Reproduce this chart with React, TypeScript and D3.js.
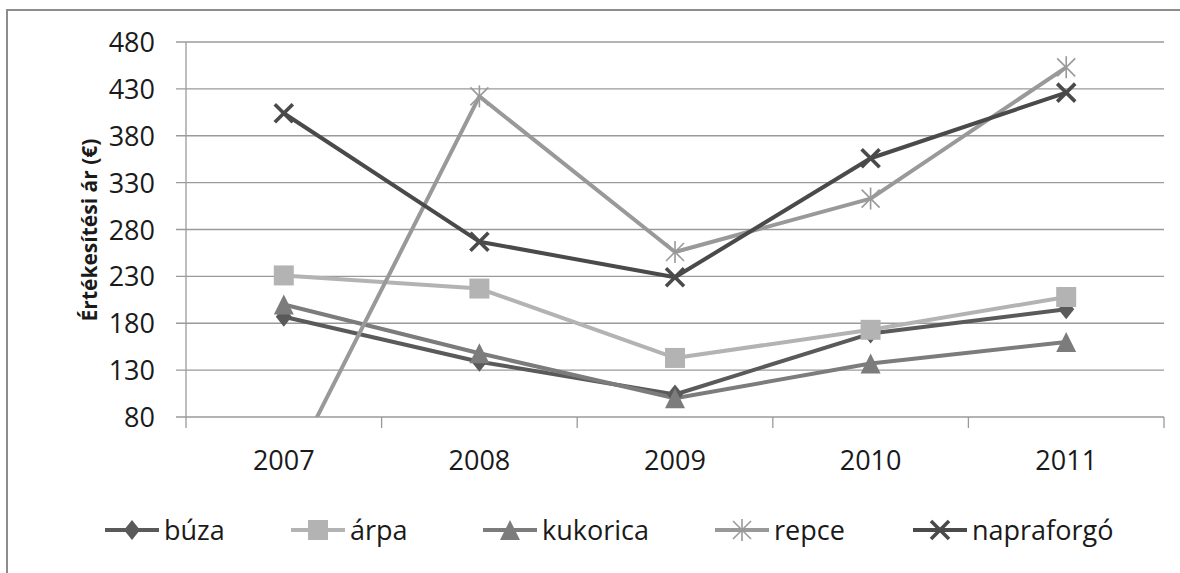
import React from "react";
import * as d3 from "d3";

// Years on the category axis
const years: string[] = ["2007", "2008", "2009", "2010", "2011"];

// Selling price per year for each crop (€)
const buza: number[] = [187, 139, 104, 169, 195];
const arpa: number[] = [231, 217, 143, 173, 208];
const kukorica: number[] = [200, 148, 100, 137, 160];
const repce: number[] = [10, 422, 256, 313, 453];
const napraforgo: number[] = [404, 267, 229, 356, 426];

const yTicks: number[] = [80, 130, 180, 230, 280, 330, 380, 430, 480];

type Marker = "diamond" | "square" | "triangle" | "star" | "x";

const seriesNames: string[] = ["búza", "árpa", "kukorica", "repce", "napraforgó"];
const seriesValues: number[][] = [buza, arpa, kukorica, repce, napraforgo];
const seriesColors: string[] = ["#5a5a5a", "#b3b3b3", "#7c7c7c", "#999999", "#4a4a4a"];
const seriesMarkers: Marker[] = ["diamond", "square", "triangle", "star", "x"];

const W = 1180;
const H = 573;
const plot = { left: 186, right: 1164, top: 42, bottom: 417 };
const FONT = "'Open Sans', 'Noto Sans', sans-serif";

const legendX: number[] = [105, 291, 483, 715, 913];

function MarkerShape({ kind, cx, cy, color }: { kind: Marker; cx: number; cy: number; color: string }) {
  const s = 10;
  switch (kind) {
    case "diamond":
      return (
        <path
          d={`M${cx},${cy - s} L${cx + s * 0.8},${cy} L${cx},${cy + s} L${cx - s * 0.8},${cy} Z`}
          fill={color}
        />
      );
    case "square":
      return <rect x={cx - s} y={cy - s} width={2 * s} height={2 * s} fill={color} />;
    case "triangle":
      return (
        <path d={`M${cx},${cy - s} L${cx + s},${cy + s} L${cx - s},${cy + s} Z`} fill={color} />
      );
    case "star": {
      const r = 9;
      return (
        <g stroke={color} strokeWidth={1.6} fill="none">
          <line x1={cx - r} y1={cy - r} x2={cx + r} y2={cy + r} />
          <line x1={cx - r} y1={cy + r} x2={cx + r} y2={cy - r} />
          <line x1={cx} y1={cy - r - 2} x2={cx} y2={cy + r + 2} />
        </g>
      );
    }
    case "x": {
      const r = 9;
      return (
        <g stroke={color} strokeWidth={3.6} fill="none">
          <line x1={cx - r} y1={cy - r} x2={cx + r} y2={cy + r} />
          <line x1={cx - r} y1={cy + r} x2={cx + r} y2={cy - r} />
        </g>
      );
    }
  }
}

export default function App() {
  const x = d3.scaleBand<string>().domain(years).range([plot.left, plot.right]).padding(0);
  const y = d3.scaleLinear().domain([80, 480]).range([plot.bottom, plot.top]);
  const xc = (yr: string) => (x(yr) ?? 0) + x.bandwidth() / 2;

  const line = d3
    .line<number>()
    .x((_, i) => xc(years[i]))
    .y((v) => y(v));

  const boundaries = [...years.map((yr) => x(yr) ?? 0), plot.right];

  return (
    <svg
      width={W}
      height={H}
      style={{ position: "absolute", left: 0, top: 0, background: "#fff" }}
    >
      <defs>
        <clipPath id="plotClip">
          <rect x={plot.left} y={0} width={plot.right - plot.left + 20} height={plot.bottom} />
        </clipPath>
      </defs>

      {/* outer frame */}
      <rect x={7} y={10} width={W} height={H} fill="none" stroke="#8c8c8c" strokeWidth={2} />

      {/* horizontal gridlines */}
      {yTicks.map((t) => (
        <line
          key={t}
          x1={plot.left - 10}
          x2={plot.right}
          y1={y(t)}
          y2={y(t)}
          stroke="#9a9a9a"
          strokeWidth={1.3}
        />
      ))}

      {/* axes */}
      <line x1={plot.left} x2={plot.left} y1={plot.top} y2={plot.bottom + 11} stroke="#9a9a9a" strokeWidth={1.3} />
      {boundaries.slice(1).map((bx, i) => (
        <line key={i} x1={bx} x2={bx} y1={plot.bottom} y2={plot.bottom + 11} stroke="#9a9a9a" strokeWidth={1.3} />
      ))}

      {/* y tick labels */}
      {yTicks.map((t) => (
        <text
          key={t}
          x={plot.left - 31}
          y={y(t) + 10}
          textAnchor="end"
          fontFamily={FONT}
          fontSize={27}
          fill="#1a1a1a"
        >
          {t}
        </text>
      ))}

      {/* x tick labels */}
      {years.map((yr) => (
        <text
          key={yr}
          x={xc(yr)}
          y={470}
          textAnchor="middle"
          fontFamily={FONT}
          fontSize={27}
          fill="#1a1a1a"
        >
          {yr}
        </text>
      ))}

      {/* y axis title */}
      <text
        transform={`translate(97,230) rotate(-90)`}
        textAnchor="middle"
        fontFamily={FONT}
        fontSize={21}
        fontWeight="bold"
        fill="#1a1a1a"
      >
        Értékesítési ár (€)
      </text>

      {/* series lines */}
      <g clipPath="url(#plotClip)">
        {seriesValues.map((vals, si) => (
          <path
            key={si}
            d={line(vals) ?? ""}
            fill="none"
            stroke={seriesColors[si]}
            strokeWidth={4}
            strokeLinejoin="round"
          />
        ))}
        {seriesValues.map((vals, si) =>
          vals.map((v, i) =>
            v >= 80 ? (
              <MarkerShape
                key={`${si}-${i}`}
                kind={seriesMarkers[si]}
                cx={xc(years[i])}
                cy={y(v)}
                color={seriesColors[si]}
              />
            ) : null
          )
        )}
      </g>

      {/* legend */}
      {seriesNames.map((name, si) => {
        const lx = legendX[si];
        const ly = 530;
        return (
          <g key={name}>
            <line x1={lx} x2={lx + 54} y1={ly} y2={ly} stroke={seriesColors[si]} strokeWidth={4} />
            <MarkerShape kind={seriesMarkers[si]} cx={lx + 27} cy={ly} color={seriesColors[si]} />
            <text x={lx + 59} y={ly + 10} fontFamily={FONT} fontSize={27} fill="#1a1a1a">
              {name}
            </text>
          </g>
        );
      })}
    </svg>
  );
}
